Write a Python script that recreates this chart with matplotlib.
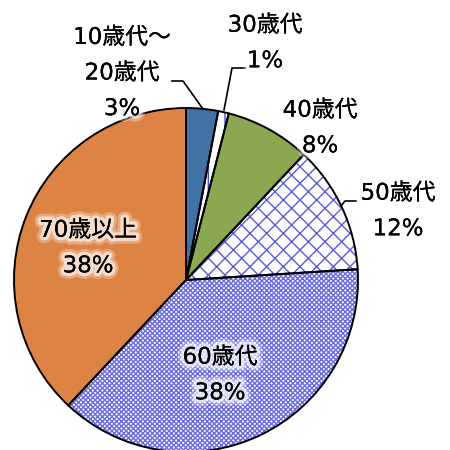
import matplotlib
matplotlib.use('Agg')
import matplotlib.pyplot as plt
import matplotlib.patheffects as pe

plt.rcParams['font.family'] = ['DejaVu Sans', 'Noto Sans CJK JP']
plt.rcParams['hatch.linewidth'] = 1.0

# データ
labels = ['10歳代～\n20歳代', '30歳代', '40歳代', '50歳代', '60歳代', '70歳以上']
values = [3, 1, 8, 12, 38, 38]
colors = ['#4172A5', 'white', '#8AA850', 'white', 'white', '#DD8444']
hatches = ['', '|', '', 'xx', 'xxxxxxx', '']
hatch_colors = ['#4172A5', '#4B4BE6', '#8AA850', '#5A5AE0', '#6A6AE6', '#DD8444']

# ラベル位置 (ピクセル, 上から)
label_pos = [(122, 73), (265, 43), (320, 128), (398, 211), (220, 375), (88, 248)]

H = 450
fig = plt.figure(figsize=(4.5, 4.5), dpi=100)
ax = fig.add_axes([0, 0, 1, 1])

# 塗りとハッチ
ax.pie(values, colors=colors, hatch=hatches, startangle=90, counterclock=False,
       center=(186, H - 280), radius=172,
       wedgeprops=dict(linewidth=0, edgecolor=None))
for w, hc in zip(ax.patches, hatch_colors):
    w.set_edgecolor(hc)
    w.set_linewidth(0)

# 黒い枠線
ax.pie(values, colors=['none'] * len(values), startangle=90, counterclock=False,
       center=(186, H - 280), radius=172,
       wedgeprops=dict(linewidth=1.4, edgecolor='black', fill=False))

# 引き出し線
ax.plot([203, 183, 172], [H - 109, H - 81, H - 81], color='black', lw=1.2)
ax.plot([224, 232, 245], [H - 110, H - 68, H - 68], color='black', lw=1.2)
ax.plot([341, 345, 356], [H - 206, H - 201, H - 201], color='black', lw=1.2)

glow = [pe.withStroke(linewidth=9, foreground=(1, 1, 1, 0.3)),
        pe.withStroke(linewidth=5, foreground=(1, 1, 1, 0.6)),
        pe.Normal()]

for lab, v, (x, y) in zip(labels, values, label_pos):
    ax.text(x, H - y, f'{lab}\n{v}%', ha='center', va='center', fontsize=16.5,
            linespacing=1.7, color='black', path_effects=glow)

ax.set_xlim(0, 450)
ax.set_ylim(0, 450)
ax.set_aspect('equal')
ax.axis('off')

fig.savefig('out.png', dpi=100)
